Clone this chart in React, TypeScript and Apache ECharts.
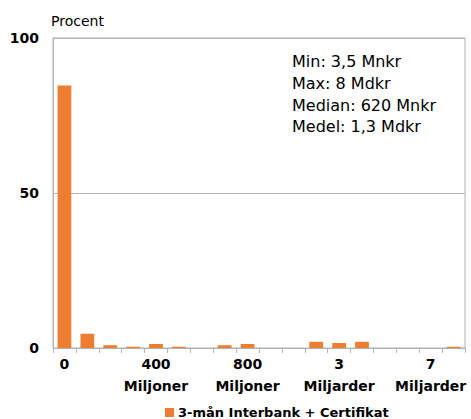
import React, { useEffect, useRef } from "react";
import * as echarts from "echarts";

const categories = ["0", "100", "200", "300", "400", "500", "600", "700", "800", "900", "1000", "2000", "3000", "4000", "5000", "6000", "7000", "8000"];
const tickLabels: Record<number, string> = { 0: "0", 4: "400\nMiljoner", 8: "800\nMiljoner", 12: "3\nMiljarder", 16: "7\nMiljarder" };
const seriesName = "3-mån Interbank + Certifikat";
const values = [84.7, 4.6, 0.9, 0.4, 1.3, 0.4, 0, 0.9, 1.3, 0, 0, 2.0, 1.6, 2.0, 0, 0, 0, 0.4];
const yTicks = [0, 50, 100];
const statsLines = ["Min: 3,5 Mnkr", "Max: 8 Mdkr", "Median: 620 Mnkr", "Medel: 1,3 Mdkr"];

const FONT = "'DejaVu Sans', sans-serif";
const GRAY = "#b3b3b3";
const ORANGE = "#ED7D31";

export default function App() {
  const ref = useRef<HTMLDivElement>(null);
  useEffect(() => {
    if (!ref.current) return;
    const chart = echarts.init(ref.current, undefined, { renderer: "svg" });
    chart.setOption({
      animation: false,
      backgroundColor: "#fff",
      textStyle: { fontFamily: FONT },
      grid: { left: 53, right: 6, top: 38, bottom: 71, show: true, borderColor: GRAY, borderWidth: 1, containLabel: false },
      legend: {
        data: [seriesName],
        left: 165,
        top: 406,
        padding: 0,
        itemWidth: 9,
        itemHeight: 9,
        itemGap: 4,
        icon: "rect",
        textStyle: { fontFamily: FONT, fontWeight: "bold", fontSize: 13, color: "#000", padding: [0, 0, 0, -1] },
      },
      xAxis: {
        type: "category",
        data: categories,
        axisLine: { lineStyle: { color: GRAY } },
        axisTick: { show: true, interval: 0, length: 5, lineStyle: { color: GRAY } },
        axisLabel: {
          interval: 0,
          margin: 5,
          fontFamily: FONT,
          fontWeight: "bold",
          fontSize: 14,
          lineHeight: 22,
          color: "#000",
          formatter: (_v: string, i: number) => tickLabels[i] ?? "",
        },
      },
      yAxis: {
        type: "value",
        min: yTicks[0],
        max: yTicks[yTicks.length - 1],
        interval: 50,
        name: "Procent",
        nameLocation: "end",
        nameGap: 10,
        nameTextStyle: { fontFamily: FONT, fontSize: 14, color: "#000", align: "left", padding: [0, 0, 0, -2] },
        axisLine: { show: true, lineStyle: { color: GRAY } },
        axisTick: { show: false },
        splitLine: { lineStyle: { color: GRAY } },
        axisLabel: { fontFamily: FONT, fontWeight: "bold", fontSize: 14, color: "#000", margin: 14 },
      },
      series: [
        {
          name: seriesName,
          type: "bar",
          data: values,
          barWidth: "60%",
          itemStyle: { color: ORANGE },
        },
      ],
      graphic: [
        {
          type: "text",
          left: 292,
          top: 51,
          style: {
            text: statsLines.join("\n"),
            font: `16px ${FONT}`,
            lineHeight: 21.7,
            fill: "#000",
          },
        },
      ],
    });
    return () => chart.dispose();
  }, []);
  return <div ref={ref} style={{ position: "absolute", left: 0, top: 0, width: 471, height: 419 }} />;
}
